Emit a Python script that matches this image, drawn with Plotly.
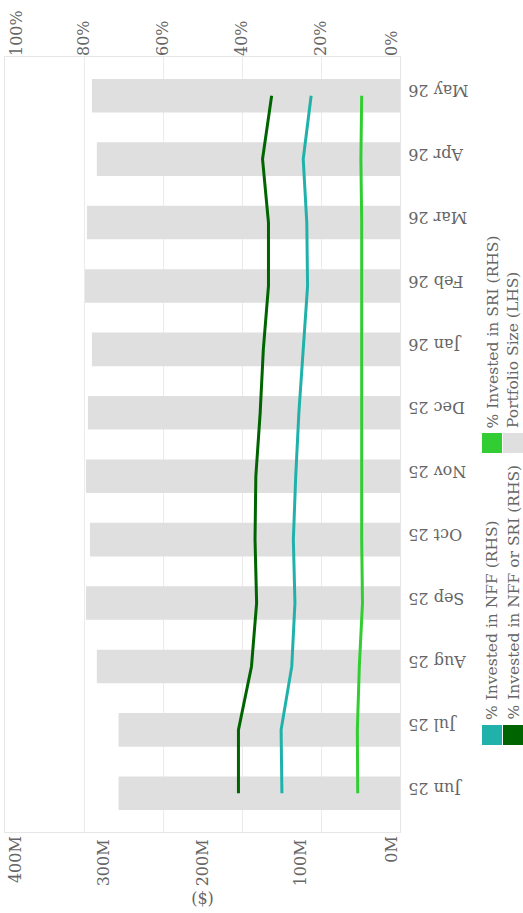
import plotly.graph_objects as go

months = ["Jun 25", "Jul 25", "Aug 25", "Sep 25", "Oct 25", "Nov 25",
          "Dec 25", "Jan 26", "Feb 26", "Mar 26", "Apr 26", "May 26"]
portfolio_size_m = [285, 285, 307, 318, 314, 318, 316, 312, 319, 317, 307, 312]
pct_sri = [10.7, 10.8, 10.3, 9.5, 9.7, 9.7, 9.7, 9.7, 9.7, 9.7, 9.9, 9.7]
pct_nff = [29.9, 30.1, 27.4, 26.6, 27.0, 26.4, 25.6, 24.5, 23.4, 23.6, 24.5, 22.5]
pct_nff_or_sri = [40.9, 40.9, 37.6, 36.3, 36.7, 36.5, 35.4, 34.6, 33.3, 33.3, 34.8, 32.5]

size_ticks = [0, 100, 200, 300, 400]
pct_ticks = [0, 20, 40, 60, 80, 100]

FONT = "DejaVu Serif"
TXT = "#666666"
C_SRI = "#32CD32"
C_NFF = "#20B2AA"
C_BOTH = "#006400"
C_SIZE = "#DFDFDF"
TICK_FONT = dict(family=FONT, size=16, color=TXT)

fig = go.Figure()

fig.add_trace(go.Bar(
    x=portfolio_size_m, y=months, orientation="h",
    marker=dict(color=C_SIZE, line=dict(width=0)),
    name="Portfolio Size (LHS)", xaxis="x", yaxis="y",
))

for vals, col, nm in [
    (pct_sri, C_SRI, "% Invested in SRI (RHS)"),
    (pct_nff, C_NFF, "% Invested in NFF (RHS)"),
    (pct_nff_or_sri, C_BOTH, "% Invested in NFF or SRI (RHS)"),
]:
    fig.add_trace(go.Scatter(
        x=vals, y=months, mode="lines", name=nm,
        line=dict(color=col, width=3), xaxis="x2", yaxis="y",
    ))

# empty traces so the end-of-scale label axes get drawn
for ax_id in ["x3", "x4", "x5", "x6"]:
    fig.add_trace(go.Scatter(x=[], y=[], xaxis=ax_id, yaxis="y",
                             showlegend=False, hoverinfo="skip"))


def edge_axis(rng, val, label, side, shift):
    # Axis carrying a single end-of-scale label nudged inside the plot edge
    return dict(
        range=rng, overlaying="x", side=side, anchor="y",
        tickvals=[val], ticktext=[label], tickangle=-90,
        ticklabelshift=shift, ticklabeloverflow="allow", automargin=False,
        showgrid=False, zeroline=False, showline=False,
        tickfont=TICK_FONT, fixedrange=True,
    )


size_rng = [size_ticks[-1], size_ticks[0]]
pct_rng = [pct_ticks[-1], pct_ticks[0]]

fig.update_layout(
    width=523, height=913, autosize=False,
    margin=dict(l=5, r=123, t=57, b=81, autoexpand=False),
    paper_bgcolor="white", plot_bgcolor="white",
    showlegend=False, bargap=0.47,
    font=dict(family=FONT, color=TXT, size=13),
    xaxis=dict(
        range=size_rng, tickvals=size_ticks[1:-1],
        ticktext=[f"{v}M" for v in size_ticks[1:-1]],
        tickangle=-90, showgrid=False, zeroline=False, automargin=False,
        showline=True, linecolor="#E6E6E6", linewidth=1, mirror=True,
        tickfont=TICK_FONT,
        title=dict(text="($)", standoff=7,
                   font=dict(family=FONT, size=16, color=TXT)),
        fixedrange=True,
    ),
    xaxis2=dict(
        range=pct_rng, overlaying="x", side="top", anchor="y",
        tickvals=pct_ticks[1:-1], ticktext=[f"{v}%" for v in pct_ticks[1:-1]],
        tickangle=-90, showgrid=True, gridcolor="#EBEBEB", gridwidth=1,
        zeroline=False, showline=False, automargin=False,
        tickfont=TICK_FONT, fixedrange=True,
    ),
    xaxis3=edge_axis(size_rng, size_ticks[0], f"{size_ticks[0]}M", "bottom", 8),
    xaxis4=edge_axis(size_rng, size_ticks[-1], f"{size_ticks[-1]}M", "bottom", -11),
    xaxis5=edge_axis(pct_rng, pct_ticks[0], f"{pct_ticks[0]}%", "top", 8),
    xaxis6=edge_axis(pct_rng, pct_ticks[-1], f"{pct_ticks[-1]}%", "top", -12),
    yaxis=dict(
        type="category", categoryorder="array", categoryarray=months,
        side="right", tickangle=180, ticklabelposition="inside",
        ticklabelstandoff=-8, showgrid=False, zeroline=False, automargin=False,
        showline=True, linecolor="#E6E6E6", linewidth=1, mirror=True,
        tickfont=TICK_FONT, fixedrange=True,
    ),
)

# Legend drawn as rotated labels with colour swatches to the right of the plot
plot_l, plot_r, plot_t, plot_b = 5, 400, 57, 832


def px_x(v):
    return (v - plot_l) / (plot_r - plot_l)


def px_y(v):
    return (plot_b - v) / (plot_b - plot_t)


legend_items = [
    ("% Invested in NFF (RHS)", C_NFF, 482, 722),
    ("% Invested in NFF or SRI (RHS)", C_BOTH, 503, 722),
    ("% Invested in SRI (RHS)", C_SRI, 482, 430),
    ("Portfolio Size (LHS)", C_SIZE, 503, 430),
]
for label, col, x0, ybase in legend_items:
    fig.add_shape(
        type="rect", xref="paper", yref="paper",
        x0=px_x(x0), x1=px_x(x0 + 20), y0=px_y(ybase + 23), y1=px_y(ybase + 3),
        fillcolor=col, line=dict(width=0),
    )
    fig.add_annotation(
        text=label, xref="paper", yref="paper",
        x=px_x(x0 + 10), y=px_y(ybase), xanchor="center", yanchor="bottom",
        textangle=-90, showarrow=False,
        font=dict(family=FONT, size=15.5, color=TXT),
    )

fig.write_html("out.html")
